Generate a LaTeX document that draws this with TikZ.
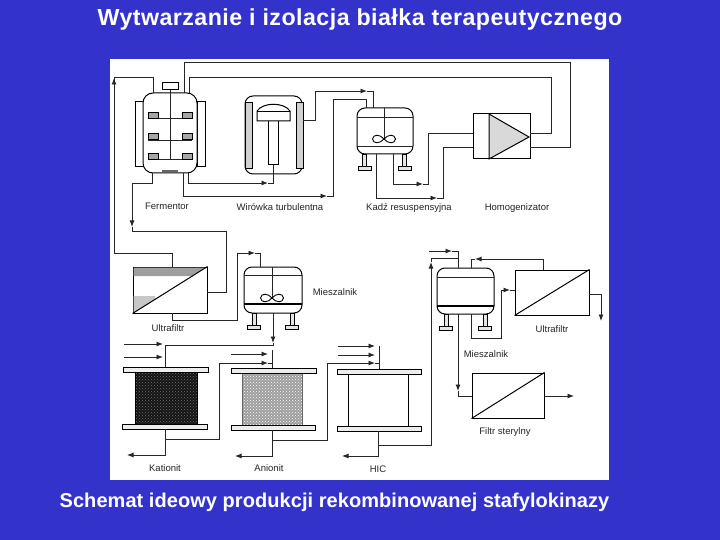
\documentclass[tikz,border=0pt]{standalone}
\usepackage{fontspec}
\setmainfont{Liberation Sans}
\usetikzlibrary{arrows.meta,patterns}
\definecolor{slide}{RGB}{51,51,204}
\tikzset{
  x=1pt,y=-1pt,
  pipe/.style={line width=0.9pt,black!85},
  flow/.style={pipe,-{Latex[length=6.5pt,width=5pt]}},
  unit/.style={draw=black,line width=1pt,inner sep=0pt,fill=white},
  tank/.style={unit,rounded corners=8pt},
  plate/.style={draw=black,line width=0.8pt,fill=black!7,inner sep=0pt,minimum height=5pt},
  tag/.style={font=\fontsize{9.5}{12}\selectfont,inner sep=0pt,text=black!85},
  headline/.style={text=white,inner sep=0pt},
  tube/.style={draw=black,line width=0.9pt,fill=black!18,inner sep=0pt},
  blade/.style={draw=black,line width=0.9pt,fill=black!35,inner sep=0pt,minimum width=10pt,minimum height=6pt},
  mixer/.pic={\draw[line width=0.9pt,fill=white] (0,0) .. controls (-4,-5) and (-11,-5) .. (-11.5,0) .. controls (-11,5) and (-4,5) .. (0,0) .. controls (4,-5) and (11,-5) .. (11.5,0) .. controls (11,5) and (4,5) .. (0,0);},
  foot/.pic={\draw[line width=0.9pt,fill=black!10] (-2,0) rectangle (2,12); \draw[line width=0.9pt,fill=black!10] (-6.5,12) rectangle (6.5,16);}
}
\begin{document}
\begin{tikzpicture}
\useasboundingbox (0,0) rectangle (720,540);
\fill[slide] (0,0) rectangle (720,540);
\node[fill=white,inner sep=0pt,minimum width=499pt,minimum height=421pt,anchor=north west] (panel) at (110,59) {};
\node[headline,font=\bfseries\fontsize{23.2}{26}\selectfont] (title) at (360,20) {\addfontfeatures{LetterSpace=2}Wytwarzanie i izolacja białka terapeutycznego};
\node[headline,font=\bfseries\fontsize{20}{24}\selectfont] (caption) at (334.5,502) {\addfontfeatures{LetterSpace=0.3}Schemat ideowy produkcji rekombinowanej stafylokinazy};

% Fermentor
\node[unit,minimum width=8pt,minimum height=65pt] (fjl) at (139,134.5) {};
\node[unit,minimum width=8pt,minimum height=65pt] (fjr) at (201,134.5) {};
\node[tank,minimum width=54pt,minimum height=80pt,rounded corners=10pt] (ferm) at (170,133) {};
\node[unit,minimum width=16pt,minimum height=7pt] (motor) at (170,86.5) {};
\draw[pipe] (motor.south) -- (170,159);
\draw[pipe] (148,118) -- (192,118) (148,140) -- (192,140) (148,159) -- (192,159);
\foreach \n/\xx/\yy in {ba/153/115,bb/187/115,bc/153/136.5,bd/187/136.5,be/153/156,bf/187/156}
  \node[blade] (\n) at (\xx,\yy) {};
\draw[line width=1.2pt,black!60] (162,171) -- (178,171);

% Wirowka
\node[tank,minimum width=57pt,minimum height=78pt] (wir) at (273.5,135) {};
\node[tube,minimum width=7pt,minimum height=66pt] (wl) at (249,135) {};
\node[tube,minimum width=7pt,minimum height=66pt] (wr) at (299.5,135) {};
\node[unit,minimum width=10pt,minimum height=44pt] (stem) at (273,143) {};
\draw[line width=1pt,fill=white] (257,121) -- (257,111) .. controls (263,102) and (284,102) .. (290,111) -- (290,121) -- cycle;
\draw[line width=0.8pt] (257,111) -- (290,111);

% Kadz
\pic at (364.5,154) {foot};
\pic at (404.5,154) {foot};
\node[tank,minimum width=56pt,minimum height=46pt] (kadz) at (385,131) {};
\draw[pipe] (357,117) -- (413,117) (357,146) -- (413,146) (384,108) -- (384,139);
\pic at (384,139) {mixer};

% Homogenizator
\node[unit,minimum width=57pt,minimum height=45pt] (homo) at (501.5,136.5) {};
\draw[line width=1pt,fill=black!15] (489,114) -- (529,137) -- (489,159) -- cycle;

% Ultrafiltr 1
\node[unit,minimum width=74pt,minimum height=46pt] (uf) at (170,290) {};
\fill[black!38] (133.5,267.5) -- (205,267.5) -- (192,276) -- (133.5,276) -- cycle;
\fill[black!22] (133.5,296) -- (155,296) -- (155,299.5) -- (133.5,312.5) -- cycle;
\draw[line width=1pt] (uf.south west) -- (uf.north east);

% Mieszalnik 1
\pic at (254,313) {foot};
\pic at (292,313) {foot};
\node[tank,minimum width=58pt,minimum height=46pt] (mix) at (273,290) {};
\draw[pipe] (244,275) -- (302,275);
\draw[line width=1.2pt] (244,304) -- (302,304);
\draw[pipe] (272,267) -- (272,298);
\pic at (272,298) {mixer};

% Columns
\node[unit,fill=black,minimum width=62pt,minimum height=58pt,pattern=crosshatch dots,pattern color=black!55,preaction={fill=black!92}] (kat) at (166,397.5) {};
\node[plate,minimum width=85pt] (kt) at (165.5,369.5) {};
\node[plate,minimum width=85pt] (kb) at (164.5,426.5) {};
\node[unit,minimum width=60pt,minimum height=55pt,preaction={fill=black!38},pattern=crosshatch dots,pattern color=white,draw=black!60] (ani) at (272,398.5) {};
\node[plate,minimum width=85pt] (at) at (273.5,370.5) {};
\node[plate,minimum width=84pt] (ab) at (273,427.5) {};
\node[unit,minimum width=60pt,minimum height=54pt] (hic) at (378,399) {};
\node[plate,minimum width=84pt] (ht) at (379,371.5) {};
\node[plate,minimum width=84pt] (hb) at (379,428.5) {};

% Mieszalnik 2
\pic at (446,314) {foot};
\pic at (485,314) {foot};
\node[tank,minimum width=57pt,minimum height=46pt] (mix2) at (465.5,291) {};
\draw[pipe] (437,277) -- (494,277);
\draw[line width=1.2pt] (437,306) -- (494,306);

% Ultrafiltr 2, filtr
\node[unit,minimum width=74pt,minimum height=45pt] (uf2) at (552,292.5) {};
\draw[line width=1pt] (uf2.south west) -- (uf2.north east);
\node[unit,minimum width=72pt,minimum height=45pt] (fs) at (508,395.5) {};
\draw[line width=1pt] (fs.south west) -- (fs.north east);

% Ports
\coordinate (p1) at (153,93);
\coordinate (p2) at (184,93);
\coordinate (p3) at (189,93);
\coordinate (p4) at (152,173);
\coordinate (p5) at (183,173);
\coordinate (p6) at (188,173);
\coordinate (wbot) at (273,165);
\coordinate (wout) at (303,120);
\coordinate (ki1) at (373,108);
\coordinate (ki2) at (366,108);
\coordinate (ko1) at (393,154);
\coordinate (ko2) at (376,154);
\coordinate (hi1) at (473,133);
\coordinate (hi2) at (473,147);
\coordinate (ho1) at (530,133);
\coordinate (ho2) at (530,147);
\coordinate (uin) at (172,267);
\coordinate (uout) at (172,313);
\coordinate (uret) at (207,292);
\coordinate (mi) at (260,267);
\coordinate (mo) at (273,313);
\coordinate (ktop) at (165,367);
\coordinate (kbot) at (165,429);
\coordinate (atop) at (272,368);
\coordinate (abot) at (272,430);
\coordinate (htop) at (379,369);
\coordinate (hbot) at (378,431);
\coordinate (m2t) at (458,268);
\coordinate (m2r) at (471,268);
\coordinate (m2b) at (471,314);
\coordinate (m2o) at (458,314);
\coordinate (u2t) at (543,270);
\coordinate (u2i) at (515,290);
\coordinate (u2o) at (589,294);
\coordinate (fi) at (472,396);
\coordinate (fo) at (544,396);

% Free ends
\foreach \n/\xx/\yy in {a1/124/344,a2/124/357,a3/231/354,a4/338/346,a5/338/355,a6/429/251,e1/127/455,e2/235/456,e3/342/456,e4/601/321,e5/574/396}
  \coordinate (\n) at (\xx,\yy);

% Connectors
\draw[pipe] (p1) |- (114,77) -- (114,253) -| (uin);
\draw[flow] (114,100) -- (114,78);
\draw[pipe] (p2) |- (570,62) |- (ho2);
\draw[pipe] (p3) |- (551,77) |- (ho1);
\draw[flow] (p4) |- (132,183) -- (132,227);
\draw[pipe] (132,227) |- (226,231) |- (uret);
\draw[flow] (p6) |- (268,183);
\draw[pipe] (268,183) -| (wbot);
\draw[flow] (p5) |- (327,196);
\draw[pipe] (327,196) -| (333,99) -| (ki2);
\draw[flow] (wout) -| (315,91) -- (367,91);
\draw[pipe] (367,91) -| (ki1);
\draw[flow] (ko1) |- (423,184);
\draw[pipe] (423,184) -| (428,133) -- (hi1);
\draw[flow] (ko2) |- (437,198);
\draw[pipe] (437,198) -| (443,147) -- (hi2);
\draw[flow] (uout) |- (237,320) |- (255,253);
\draw[pipe] (255,253) -| (mi);
\draw[flow] (mo) -- (273,343);
\draw[pipe] (273,343) |- (165,345) -- (ktop);
\draw[flow] (a1) -- (163,344);
\draw[flow] (a2) -- (163,357);
\draw[flow] (kbot) |- (e1);
\draw[flow] (165,439) -| (219,363) -- (268,363);
\draw[pipe] (268,363) -- (272,363);
\draw[flow] (a3) -- (268,354);
\draw[pipe] (272,350) -- (atop);
\draw[flow] (abot) |- (e2);
\draw[flow] (272,440) -| (327,363) -- (375,363);
\draw[pipe] (375,363) -- (379,363);
\draw[flow] (a4) -- (375,346);
\draw[flow] (a5) -- (375,355);
\draw[pipe] (379,346) -- (htop);
\draw[flow] (hbot) |- (e3);
\draw[flow] (378,445) -| (431,262);
\draw[pipe] (431,262) |- (m2t |- 0,258) -- (m2t);
\draw[flow] (a6) -- (452,251);
\draw[pipe] (452,251) -- (458,251) -- (458,258);
\draw[flow] (u2t) |- (475,259);
\draw[pipe] (475,259) -| (m2r);
\draw[flow] (m2b) |- (501,338) |- (510,290);
\draw[pipe] (510,290) -- (u2i);
\draw[flow] (u2o) -| (e4);
\draw[flow] (m2o) -- (458,391);
\draw[pipe] (458,391) |- (fi);
\draw[flow] (fo) -- (e5);

% Labels
\node[tag] (l1) at (167,206) {Fermentor};
\node[tag] (l2) at (280,207) {Wirówka turbulentna};
\node[tag] (l3) at (409,208) {Kadź resuspensyjna};
\node[tag] (l4) at (517,208) {Homogenizator};
\node[tag] (l5) at (168,328) {Ultrafiltr};
\node[tag] (l6) at (335,292) {Mieszalnik};
\node[tag] (l7) at (165,468) {Kationit};
\node[tag] (l8) at (269,468) {Anionit};
\node[tag] (l9) at (378,469) {HIC};
\node[tag] (l10) at (552,329) {Ultrafiltr};
\node[tag] (l11) at (486,354) {Mieszalnik};
\node[tag] (l12) at (505,432) {Filtr sterylny};
\end{tikzpicture}
\end{document}
